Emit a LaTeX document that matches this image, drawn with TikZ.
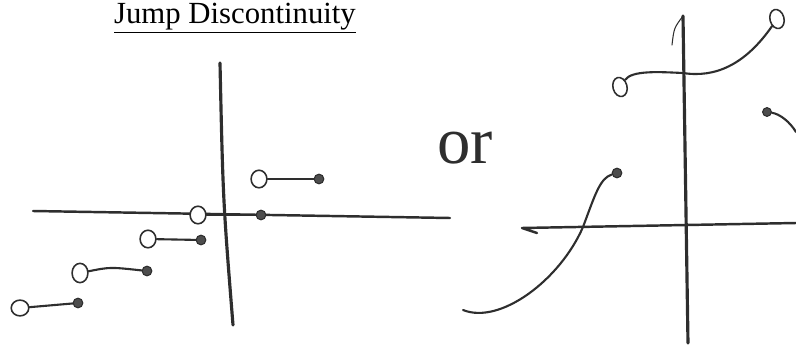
\documentclass[tikz,border=0pt]{standalone}
\usepackage{fontspec}
\setmainfont{Liberation Serif}
\usetikzlibrary{shapes.geometric}

\definecolor{matita}{HTML}{2E2E2E}

\begin{document}
\begin{tikzpicture}[x=0.02cm, y=-0.02cm, line cap=round, line join=round]
	% Stili per assi, tratti e punti
	\tikzset{
		asse/.style={draw=matita, line width=1.8pt},
		tratto/.style={draw=matita, line width=1.2pt},
		aperto/.style={ellipse, draw=matita, line width=0.9pt, fill=white, inner sep=0pt},
		pieno/.style={circle, draw=matita, fill=matita!85, line width=0.6pt, minimum size=5.5pt, inner sep=0pt}
	}
	\useasboundingbox (0,0) rectangle (796,345);

	% Titolo
	\node[anchor=base, inner sep=0pt, font=\fontsize{17.5}{20}\selectfont] (titolo) at (235,23) {\underline{Jump Discontinuity}};

	% Assi del primo grafico
	\coordinate (ay1) at (220,63);
	\coordinate (ay2) at (233,325);
	\coordinate (ax1) at (33,211);
	\coordinate (ax2) at (450,218);
	\draw[asse] (ay1) .. controls (223,200) .. (ay2);
	\draw[asse, line width=1.4pt] (ax1) -- (ax2);

	% Gradini (cerchio vuoto -- punto pieno)
	\node[aperto, minimum width=9pt, minimum height=10pt] (o1) at (259,179) {};
	\node[pieno] (f1) at (319,179) {};
	\node[aperto, minimum width=9pt, minimum height=10pt] (o2) at (198,215) {};
	\node[pieno] (f2) at (261,215) {};
	\node[aperto, minimum width=9pt, minimum height=10pt] (o3) at (148,239) {};
	\node[pieno] (f3) at (201,240) {};
	\node[aperto, minimum width=9pt, minimum height=11pt] (o4) at (80,273) {};
	\node[pieno] (f4) at (147,271) {};
	\node[aperto, minimum width=10pt, minimum height=9pt] (o5) at (20,308) {};
	\node[pieno] (f5) at (78,303) {};

	\draw[tratto] (o1) -- (f1);
	\draw[tratto] (o2) -- (f2);
	\draw[tratto] (o3) -- (f3);
	\draw[tratto] (o4) .. controls (110,267) .. (f4);
	\draw[tratto] (o5) -- (f5);

	% Congiunzione
	\node[anchor=base, font=\fontsize{38}{38}\selectfont, text=matita] (oppure) at (465,163) {or};

	% Assi del secondo grafico
	\coordinate (by1) at (683,16);
	\coordinate (by2) at (688,343);
	\coordinate (bgancio) at (672,45);
	\coordinate (bx0) at (537,233);
	\coordinate (bx1) at (522,228);
	\coordinate (bx2) at (796,223);
	\draw[asse] (by1) -- (by2);
	\draw[tratto, line width=0.6pt] (by1) .. controls (674,28) .. (bgancio);
	\draw[asse, line width=1.4pt] (bx0) -- (bx1) -- (bx2);

	% Tratti della funzione
	\coordinate (c1) at (463,310);
	\node[pieno] (g1) at (617,173) {};
	\draw[tratto] (c1) .. controls (500,325) and (560,280) .. (583,227)
		.. controls (595,195) and (600,178) .. (g1);

	\node[aperto, minimum width=8pt, minimum height=11pt, rotate=15] (g2) at (620,87) {};
	\node[aperto, minimum width=8pt, minimum height=11pt, rotate=15] (g3) at (777,19) {};
	\draw[tratto] (g2) .. controls (632,70) and (660,72) .. (683,73)
		.. controls (715,78) and (745,65) .. (g3);

	\node[pieno, minimum size=5pt] (g4) at (767,112) {};
	\coordinate (c2) at (796,132);
	\draw[tratto] (g4) .. controls (780,114) and (790,122) .. (c2);
\end{tikzpicture}
\end{document}
